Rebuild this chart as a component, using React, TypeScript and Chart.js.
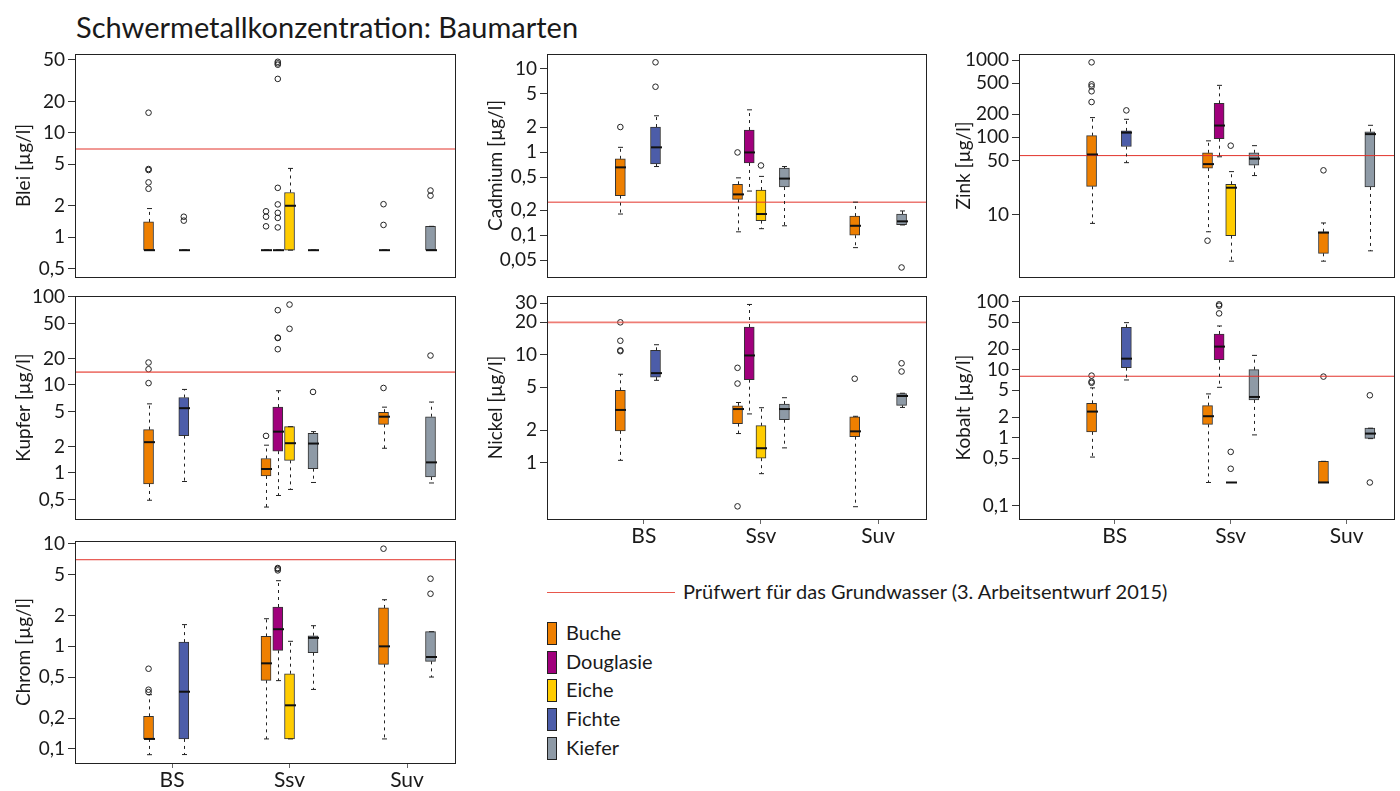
import React, { useEffect, useRef } from "react";
import { Chart, registerables } from "chart.js";
Chart.register(...registerables);

const FONT = "Lato, 'Open Sans', sans-serif";
Chart.defaults.font.family = FONT;

const chartTitle = "Schwermetallkonzentration: Baumarten";
const groupLabels = ["BS", "Ssv", "Suv"];
const speciesNames = ["Buche", "Douglasie", "Eiche", "Fichte", "Kiefer"];
const speciesColors = ["#EE7F00", "#A0007C", "#FFCC00", "#4C5DA9", "#8E9AA6"];
const refLabel = "Prüfwert für das Grundwasser (3. Arbeitsentwurf 2015)";

type S = number[] | null; // [lower whisker, q1, median, q3, upper whisker]

// ---------- Blei ----------
const bleiRef = 7;
const bleiTicks = [0.5, 1, 2, 5, 10, 20, 50];
const bleiRange = [0.415, 57];
const bleiBoxes: S[][] = [
  [[0.75, 0.75, 0.75, 1.4, 1.88], [0.75, 0.75, 0.75, 0.75, 0.75], [0.75, 0.75, 0.75, 0.75, 0.75]],
  [null, [0.75, 0.75, 0.75, 0.75, 0.75], null],
  [null, [0.75, 0.75, 2.0, 2.68, 4.56], null],
  [[0.75, 0.75, 0.75, 0.75, 0.75], null, null],
  [null, [0.75, 0.75, 0.75, 0.75, 0.75], [0.75, 0.75, 0.75, 1.27, 1.27]],
];
const bleiOutliers: number[][][] = [
  [[15.6, 4.5, 4.4, 3.35, 2.91], [1.77, 1.57, 1.27], [2.07, 1.31]],
  [[], [48, 46.4, 45, 32.9, 2.97, 2.06, 1.71, 1.53, 1.24], []],
  [[], [], []],
  [[1.57, 1.44], [], []],
  [[], [], [2.8, 2.5]],
];

// ---------- Cadmium ----------
const cadmiumRef = 0.25;
const cadmiumTicks = [0.05, 0.1, 0.2, 0.5, 1, 2, 5, 10];
const cadmiumRange = [0.0315, 15.1];
const cadmiumBoxes: S[][] = [
  [[0.18, 0.3, 0.655, 0.83, 1.14], [0.11, 0.27, 0.31, 0.41, 0.49], [0.071, 0.1, 0.13, 0.17, 0.25]],
  [null, [0.34, 0.74, 0.99, 1.84, 3.22], null],
  [null, [0.12, 0.15, 0.18, 0.35, 0.51], null],
  [[0.67, 0.72, 1.14, 2.0, 2.73], null, null],
  [null, [0.13, 0.38, 0.48, 0.64, 0.67], [0.133, 0.134, 0.147, 0.18, 0.196]],
];
const cadmiumOutliers: number[][][] = [
  [[2.0], [0.99], []],
  [[], [], []],
  [[], [0.69], []],
  [[12.0, 6.1], [], []],
  [[], [], [0.041]],
];

// ---------- Zink ----------
const zinkRef = 58;
const zinkTicks = [10, 50, 100, 200, 500, 1000];
const zinkRange = [1.56, 1196];
const zinkBoxes: S[][] = [
  [[7.7, 23.2, 60, 105, 180], [6.0, 40, 45, 63, 90], [2.5, 3.16, 5.85, 6.0, 7.8]],
  [null, [56, 96, 142, 275, 470], null],
  [null, [2.5, 5.35, 22.3, 24.7, 36], null],
  [[47, 76, 115, 121, 171], null, null],
  [null, [32, 43.5, 53, 63, 78], [3.4, 22.8, 110, 118, 143]],
];
const zinkOutliers: number[][][] = [
  [[933, 484, 455, 394, 286], [4.6], [37.4]],
  [[], [], []],
  [[], [78], []],
  [[223], [], []],
  [[], [], []],
];

// ---------- Kupfer ----------
const kupferRef = 14;
const kupferTicks = [0.5, 1, 2, 5, 10, 20, 50, 100];
const kupferRange = [0.313, 102.6];
const kupferBoxes: S[][] = [
  [[0.49, 0.75, 2.24, 3.11, 6.1], [0.41, 0.925, 1.11, 1.46, 2.07], [1.91, 3.57, 4.36, 4.9, 5.6]],
  [null, [0.555, 1.77, 2.95, 5.6, 8.6], null],
  [null, [0.65, 1.39, 2.18, 3.36, 3.36], null],
  [[0.8, 2.66, 5.45, 7.2, 8.9], null, null],
  [null, [0.78, 1.12, 2.16, 2.83, 2.95], [0.77, 0.9, 1.32, 4.36, 6.4]],
];
const kupferOutliers: number[][][] = [
  [[18, 15.1, 10.5], [2.64], [9.25]],
  [[], [70.8, 34.5, 34.2, 25.5], []],
  [[], [82, 43.5], []],
  [[], [], []],
  [[], [8.34], [21.6]],
];

// ---------- Nickel ----------
const nickelRef = 20;
const nickelTicks = [1, 2, 5, 10, 20, 30];
const nickelRange = [0.33, 35.1];
const nickelBoxes: S[][] = [
  [[1.05, 1.97, 3.08, 4.68, 6.6], [1.86, 2.3, 3.14, 3.37, 3.61], [0.39, 1.74, 1.95, 2.66, 2.69]],
  [null, [2.83, 5.88, 9.86, 18.1, 29.3], null],
  [null, [0.79, 1.1, 1.36, 2.2, 3.23], null],
  [[5.8, 6.2, 6.76, 11.0, 12.4], null, null],
  [null, [1.37, 2.5, 3.14, 3.49, 4.0], [3.25, 3.39, 4.15, 4.36, 4.4]],
];
const nickelOutliers: number[][][] = [
  [[20, 13.5, 11.0, 10.8], [7.57, 5.41, 0.393], [6.0]],
  [[], [], []],
  [[], [], []],
  [[], [], []],
  [[], [], [8.34, 7.0]],
];

// ---------- Kobalt ----------
const kobaltRef = 8;
const kobaltTicks = [0.1, 0.5, 1, 2, 5, 10, 20, 50, 100];
const kobaltRange = [0.064, 120.7];
const kobaltBoxes: S[][] = [
  [[0.52, 1.22, 2.42, 3.2, 5.4], [0.22, 1.57, 2.07, 2.96, 4.4], [0.22, 0.22, 0.22, 0.45, 0.45]],
  [null, [5.5, 14, 21.8, 33.4, 43.8], null],
  [null, [0.22, 0.22, 0.22, 0.22, 0.22], null],
  [[7.05, 10.7, 14.5, 41.8, 49], null, null],
  [null, [1.1, 3.59, 3.97, 10, 16.2], [0.97, 0.98, 1.15, 1.38, 1.38]],
];
const kobaltOutliers: number[][][] = [
  [[8.17, 6.67, 6.4], [], [7.9]],
  [[], [91, 87, 67], []],
  [[], [0.62, 0.35], []],
  [[], [], []],
  [[], [], [4.2, 0.22]],
];

// ---------- Chrom ----------
const chromRef = 7;
const chromTicks = [0.1, 0.2, 0.5, 1, 2, 5, 10];
const chromRange = [0.0728, 10.66];
const chromBoxes: S[][] = [
  [[0.0877, 0.125, 0.125, 0.2075, 0.3377], [0.125, 0.466, 0.683, 1.25, 1.86], [0.125, 0.667, 1.0, 2.37, 2.85]],
  [null, [0.463, 0.914, 1.47, 2.42, 4.37], null],
  [null, [0.125, 0.125, 0.266, 0.541, 1.12], null],
  [[0.088, 0.125, 0.361, 1.1, 1.63], null, null],
  [null, [0.38, 0.867, 1.21, 1.27, 1.59], [0.502, 0.714, 0.787, 1.39, 1.39]],
];
const chromOutliers: number[][][] = [
  [[0.605, 0.378, 0.358], [], [8.97]],
  [[], [5.81, 5.7, 5.51], []],
  [[], [], []],
  [[], [], []],
  [[], [], [4.57, 3.26]],
];

// ---------- layout ----------
const X_MIN = 0.174;
const X_MAX = 3.417;
const pos = (g: number, s: number) => g + 1 + (s - 2) * 0.1;
const fmt = (v: number) => String(v).replace(".", ",");

type Cfg = {
  name: string;
  boxes: S[][];
  outliers: number[][][];
  ref: number;
  ticks: number[];
  range: number[];
  rect: number[];
  showX: boolean;
  titlePad: number;
  refColor: string;
  refWidth: number;
};

const panels: Cfg[] = [
  { name: "Blei", boxes: bleiBoxes, outliers: bleiOutliers, ref: bleiRef, ticks: bleiTicks, range: bleiRange, rect: [75, 54, 457, 277], showX: false, titlePad: 12, refColor: "#e2322a", refWidth: 1 },
  { name: "Cadmium", boxes: cadmiumBoxes, outliers: cadmiumOutliers, ref: cadmiumRef, ticks: cadmiumTicks, range: cadmiumRange, rect: [547, 54, 928, 277], showX: false, titlePad: 12, refColor: "#e2322a", refWidth: 1 },
  { name: "Zink", boxes: zinkBoxes, outliers: zinkOutliers, ref: zinkRef, ticks: zinkTicks, range: zinkRange, rect: [1019, 54, 1399, 277], showX: false, titlePad: 8, refColor: "#e2322a", refWidth: 1 },
  { name: "Kupfer", boxes: kupferBoxes, outliers: kupferOutliers, ref: kupferRef, ticks: kupferTicks, range: kupferRange, rect: [75, 296, 457, 519], showX: false, titlePad: 12, refColor: "rgba(232,80,70,0.75)", refWidth: 1.6 },
  { name: "Nickel", boxes: nickelBoxes, outliers: nickelOutliers, ref: nickelRef, ticks: nickelTicks, range: nickelRange, rect: [547, 296, 928, 519], showX: true, titlePad: 12, refColor: "rgba(232,80,70,0.75)", refWidth: 1.6 },
  { name: "Kobalt", boxes: kobaltBoxes, outliers: kobaltOutliers, ref: kobaltRef, ticks: kobaltTicks, range: kobaltRange, rect: [1019, 296, 1399, 519], showX: true, titlePad: 8, refColor: "#e2322a", refWidth: 1 },
  { name: "Chrom", boxes: chromBoxes, outliers: chromOutliers, ref: chromRef, ticks: chromTicks, range: chromRange, rect: [75, 541, 457, 763], showX: true, titlePad: 12, refColor: "#e2322a", refWidth: 1 },
];

const AXIS_W = 75;
const PAD_TOP = 18;

function geom(cfg: Cfg) {
  const [L, T, R, B] = cfg.rect;
  const padR = R >= 1399 ? 1 : 4;
  const xH = cfg.showX ? 28 : 18;
  return {
    left: L - AXIS_W,
    top: T - PAD_TOP,
    width: R - L + AXIS_W + padR,
    height: B - T + PAD_TOP + xH,
    padR,
    xH,
  };
}

function boxPlugin(cfg: Cfg) {
  return {
    id: "boxWhiskers",
    afterDatasetsDraw(chart: any) {
      const { ctx } = chart;
      const xs = chart.scales.x;
      const ys = chart.scales.y;
      ctx.save();
      cfg.boxes.forEach((row, s) =>
        row.forEach((st, g) => {
          if (!st) return;
          const px = Math.round(xs.getPixelForValue(pos(g, s))) + 0.5;
          const [lo, q1, med, q3, hi] = st.map((v) => ys.getPixelForValue(v));
          ctx.strokeStyle = "#222";
          ctx.lineWidth = 1;
          ctx.setLineDash([3, 4]);
          ctx.beginPath();
          if (hi < q3 - 0.5) {
            ctx.moveTo(px, q3);
            ctx.lineTo(px, hi);
          }
          if (lo > q1 + 0.5) {
            ctx.moveTo(px, q1);
            ctx.lineTo(px, lo);
          }
          ctx.stroke();
          ctx.setLineDash([]);
          ctx.beginPath();
          ctx.moveTo(px - 2.5, hi);
          ctx.lineTo(px + 2.5, hi);
          ctx.moveTo(px - 2.5, lo);
          ctx.lineTo(px + 2.5, lo);
          ctx.stroke();
          ctx.strokeStyle = "#111";
          ctx.lineWidth = 2;
          ctx.beginPath();
          ctx.moveTo(px - 5.5, med);
          ctx.lineTo(px + 5.5, med);
          ctx.stroke();
        })
      );
      ctx.restore();
    },
    afterDraw(chart: any) {
      const { ctx, chartArea } = chart;
      ctx.save();
      ctx.strokeStyle = "#222";
      ctx.lineWidth = 1;
      ctx.strokeRect(
        Math.round(chartArea.left) + 0.5,
        Math.round(chartArea.top) + 0.5,
        Math.round(chartArea.right - chartArea.left) - 1,
        Math.round(chartArea.bottom - chartArea.top)
      );
      ctx.restore();
    },
  };
}

function Panel({ cfg }: { cfg: Cfg }) {
  const ref = useRef<HTMLCanvasElement>(null);
  const g = geom(cfg);
  useEffect(() => {
    if (!ref.current) return;
    const datasets: any[] = [];
    datasets.push({
      type: "line",
      data: [
        { x: X_MIN, y: cfg.ref },
        { x: X_MAX, y: cfg.ref },
      ],
      borderColor: cfg.refColor,
      borderWidth: cfg.refWidth,
      pointRadius: 0,
      order: 0,
    });
    cfg.outliers.forEach((row, s) => {
      const pts: any[] = [];
      row.forEach((vals, gi) => vals.forEach((v) => pts.push({ x: pos(gi, s), y: v })));
      if (pts.length)
        datasets.push({
          type: "scatter",
          data: pts,
          pointRadius: 2.8,
          pointBorderWidth: 1,
          pointBorderColor: "#222",
          pointBackgroundColor: "rgba(0,0,0,0)",
          order: 1,
        });
    });
    cfg.boxes.forEach((row, s) => {
      const pts: any[] = [];
      row.forEach((st, gi) => {
        if (st) pts.push({ x: pos(gi, s), y: [st[1], st[3]] });
      });
      datasets.push({
        type: "bar",
        data: pts,
        backgroundColor: speciesColors[s],
        borderColor: "#333",
        borderWidth: 1,
        borderSkipped: false,
        barThickness: 10,
        grouped: false,
        order: 2,
      });
    });
    const chart = new Chart(ref.current, {
      type: "bar",
      data: { datasets },
      plugins: [boxPlugin(cfg)],
      options: {
        animation: false,
        responsive: false,
        events: [],
        layout: { padding: { top: PAD_TOP, right: g.padR, left: 0, bottom: 0 } },
        plugins: { legend: { display: false }, tooltip: { enabled: false } },
        scales: {
          x: {
            type: "linear",
            min: X_MIN,
            max: X_MAX,
            offset: false,
            afterBuildTicks: (s: any) => {
              s.ticks = [1, 2, 3].map((v) => ({ value: v }));
            },
            afterFit: (s: any) => {
              s.height = g.xH;
            },
            ticks: {
              display: cfg.showX,
              autoSkip: false,
              maxRotation: 0,
              padding: 0,
              color: "#1a1a1a",
              font: { size: 21, family: FONT },
              callback: (v: any) => groupLabels[Math.round(Number(v)) - 1],
            },
            grid: {
              display: cfg.showX,
              offset: false,
              drawOnChartArea: false,
              tickLength: 5,
              color: "#666",
            },
            border: { display: false },
          },
          y: {
            type: "logarithmic",
            min: cfg.range[0],
            max: cfg.range[1],
            afterBuildTicks: (s: any) => {
              s.ticks = cfg.ticks.map((v) => ({ value: v }));
            },
            afterFit: (s: any) => {
              s.width = AXIS_W;
            },
            ticks: {
              autoSkip: false,
              padding: 3,
              color: "#1a1a1a",
              font: { size: 19, family: FONT },
              callback: (v: any) => fmt(Number(v)),
            },
            grid: {
              drawOnChartArea: false,
              tickLength: 7,
              color: "#333",
            },
            border: { display: false },
            title: {
              display: true,
              text: cfg.name + " [µg/l]",
              color: "#1a1a1a",
              font: { size: 19, family: FONT },
              padding: { top: cfg.titlePad, bottom: 0 },
            },
          },
        },
      } as any,
    });
    return () => chart.destroy();
  }, []);
  return (
    <canvas
      ref={ref}
      width={g.width}
      height={g.height}
      style={{ position: "absolute", left: g.left, top: g.top, width: g.width, height: g.height }}
    />
  );
}

const legendRows = [633, 662, 690, 719, 748];

export default function App() {
  return (
    <div
      style={{
        position: "absolute",
        left: 0,
        top: 0,
        width: 1400,
        height: 791,
        overflow: "hidden",
        background: "#fff",
        fontFamily: FONT,
        color: "#1a1a1a",
      }}
    >
      <div style={{ position: "absolute", left: 76, top: 12, fontSize: 29, lineHeight: "29px", whiteSpace: "nowrap" }}>
        {chartTitle}
      </div>
      {panels.map((p) => (
        <Panel key={p.name} cfg={p} />
      ))}
      <div style={{ position: "absolute", left: 547, top: 592, width: 128, height: 1, background: "#e8574c" }} />
      <div style={{ position: "absolute", left: 683, top: 581, fontSize: 20, lineHeight: "20px", whiteSpace: "nowrap" }}>
        {refLabel}
      </div>
      {speciesNames.map((n, i) => (
        <React.Fragment key={n}>
          <div
            style={{
              position: "absolute",
              left: 547,
              top: legendRows[i] - 11,
              width: 8,
              height: 21,
              background: speciesColors[i],
              border: "1px solid #222",
            }}
          />
          <div
            style={{
              position: "absolute",
              left: 566,
              top: legendRows[i] - 11,
              fontSize: 20,
              lineHeight: "20px",
              whiteSpace: "nowrap",
            }}
          >
            {n}
          </div>
        </React.Fragment>
      ))}
    </div>
  );
}
